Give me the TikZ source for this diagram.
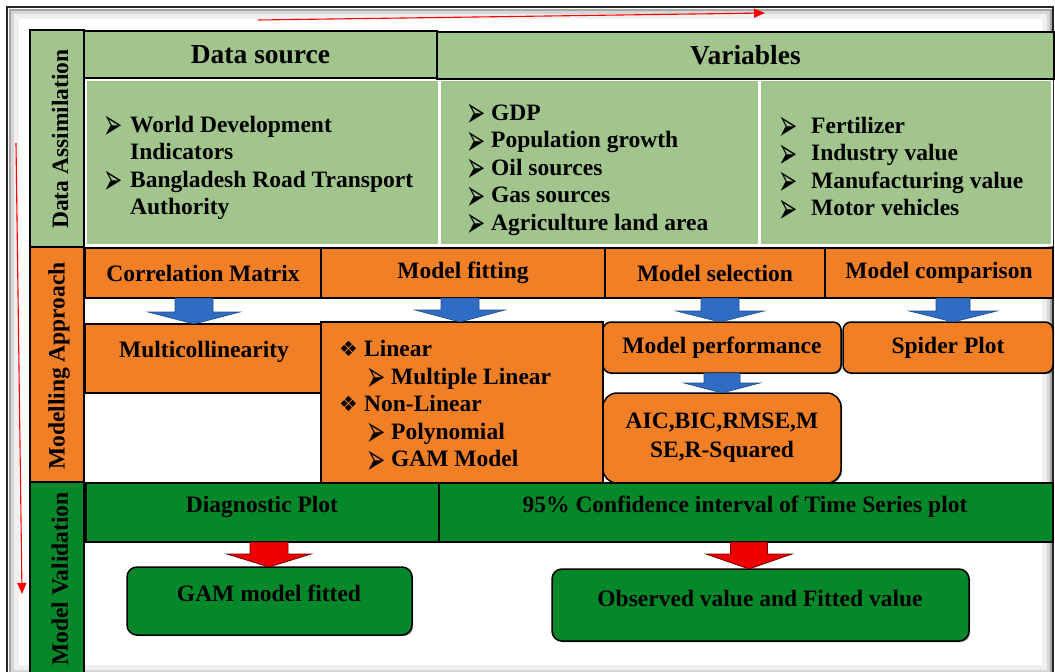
\documentclass[tikz,border=0pt]{standalone}
\usepackage{fontspec}
\usepackage{graphicx}
\setmainfont{Liberation Serif}
\newfontfamily\dingfont{DejaVu Sans}
\usetikzlibrary{calc,shadows,arrows.meta}

\definecolor{assimgreen}{RGB}{162,197,142}
\definecolor{modelorange}{RGB}{240,127,38}
\definecolor{validgreen}{RGB}{4,136,42}
\definecolor{flowblue}{RGB}{47,109,197}
\definecolor{flowred}{RGB}{238,0,0}

% list markers
\newcommand\bul{\smash{\raisebox{-7.5pt}{\scalebox{1}[1.9]{\dingfont\fontsize{23}{23}\selectfont ➢}}}}
\newcommand\dia{\smash{\dingfont\fontsize{21}{21}\selectfont ❖}}

% block arrow pointing down: style, start (shaft top), tip, shaft half-width, head half-width, head length
\newcommand\blockarrow[6]{%
  \path[#1] let \p1=#2, \p2=#3 in
    (\x2-#4,\y1) -- (\x2+#4,\y1) -- (\x2+#4,\y2+#6) -- (\x2+#5,\y2+#6)
    -- (\x2,\y2) -- (\x2-#5,\y2+#6) -- (\x2-#4,\y2+#6) -- cycle;}

\begin{document}
\begin{tikzpicture}[x=1pt,y=-1pt,
  box/.style={draw=black, line width=1.5pt, inner sep=0pt, outer sep=0pt},
  dropsh/.style={drop shadow={shadow xshift=1.2pt, shadow yshift=-1.2pt, opacity=.45, fill=black}},
  greenA/.style={box, fill=assimgreen, dropsh},
  cell/.style={draw=white, line width=1.4pt, fill=assimgreen, inner sep=0pt, outer sep=0pt},
  orangeA/.style={box, fill=modelorange, dropsh},
  greenV/.style={box, fill=validgreen, dropsh},
  txt/.style={font=\bfseries\fontsize{23.5}{27.5}\selectfont, inner sep=0pt, text=black},
  bigtxt/.style={font=\bfseries\fontsize{27.5}{32}\selectfont, inner sep=0pt, text=black},
  vtxt/.style={txt, rotate=90},
  rr/.style={rounded corners=8pt},
  blockblue/.style={fill=flowblue, draw=flowblue!70!black, line width=0.6pt},
  blockred/.style={fill=flowred, draw=red!45!black, line width=0.8pt},
  guide/.style={draw=red, line width=1.1pt, -{Triangle[length=11pt,width=9pt]}}
]
\useasboundingbox (0,0) rectangle (1055,672);

% outer frame with soft inner shading
\draw[black!35, line width=2pt] (9.5,9.5) rectangle (1050.5,673.5);
\draw[black!16, line width=3pt] (12,12) rectangle (1048,671);
\draw[black!6, line width=5pt] (16,16) rectangle (1044,667);
\draw[black!85, line width=1.6pt] (7,7) rectangle (1053,676);

% process direction guides
\coordinate (gTopA) at (258,20);
\coordinate (gTopB) at (765,13);
\coordinate (gLeftA) at (16,143);
\coordinate (gLeftB) at (22,594);
\draw[guide] (gTopA) -- (gTopB);
\draw[guide] (gLeftA) -- (gLeftB);

% stage columns
\node[greenA, minimum width=54pt, minimum height=217pt] (colA) at (57,138.5) {};
\node[orangeA, minimum width=54pt, minimum height=235pt] (colM) at (57,364.5) {};
\node[greenV, minimum width=54pt, minimum height=194pt] (colV) at (57,579) {};
\node[vtxt] (colAt) at (60,139) {Data Assimilation};
\node[vtxt] (colMt) at (59,366) {Modelling Approach};
\node[vtxt] (colVt) at (60,579) {Model Validation};

% data assimilation
\node[cell, minimum width=353pt, minimum height=165pt] (cds) at (262.5,162.5) {};
\node[cell, minimum width=319pt, minimum height=165pt] (cv1) at (599.5,162.5) {};
\node[cell, minimum width=292pt, minimum height=165pt] (cv2) at (906,162.5) {};
\node[greenA, bigtxt, minimum width=353pt, minimum height=47pt] (hds) at (260.5,54.5) {Data source};
\node[greenA, bigtxt, minimum width=617pt, minimum height=47pt] (hvar) at (745.5,55.5) {Variables};

\node[txt, anchor=north west] (lds) at (103,112.75) {%
  \begin{tabular}{@{}p{27pt}@{}l@{}}
  \bul & World Development\\
       & Indicators\\
  \bul & Bangladesh Road Transport\\
       & Authority
  \end{tabular}};
\node[txt, anchor=north west] (lv1) at (466,100.75) {%
  \begin{tabular}{@{}p{25pt}@{}l@{}}
  \bul & GDP\\
  \bul & Population growth\\
  \bul & Oil sources\\
  \bul & Gas sources\\
  \bul & Agriculture land area
  \end{tabular}};
\node[txt, anchor=north west] (lv2) at (778,113.75) {%
  \begin{tabular}{@{}p{33pt}@{}l@{}}
  \bul & Fertilizer\\
  \bul & Industry value\\
  \bul & Manufacturing value\\
  \bul & Motor vehicles
  \end{tabular}};

% modelling approach
\node[orangeA, txt, minimum width=236pt, minimum height=50pt] (hcm) at (203,273) {Correlation Matrix};
\node[orangeA, txt, minimum width=284pt, minimum height=50pt] (hmf) at (463,273) {Model fitting};
\node[orangeA, txt, minimum width=220pt, minimum height=50pt] (hms) at (715,273) {Model selection};
\node[orangeA, txt, minimum width=228pt, minimum height=50pt] (hmc) at (939,273) {Model comparison};

\node[orangeA, minimum width=236pt, minimum height=69pt] (bmc) at (203,358.5) {};
\node[txt] (tmc) at (204,352) {Multicollinearity};
\node[orangeA, minimum width=282pt, minimum height=161pt] (bmf) at (462,402.5) {};
\node[txt, anchor=north west] (lmf) at (339,337.5) {%
  \begin{tabular}{@{}p{25pt}@{}p{27pt}@{}l@{}}
  \dia & \multicolumn{2}{@{}l@{}}{Linear}\\
       & \hspace{2pt}\bul & Multiple Linear\\
  \dia & \multicolumn{2}{@{}l@{}}{Non-Linear}\\
       & \hspace{2pt}\bul & Polynomial\\
       & \hspace{2pt}\bul & GAM Model
  \end{tabular}};
\node[orangeA, rr, txt, minimum width=238pt, minimum height=51pt] (bmp) at (722,347.5) {Model performance};
\node[orangeA, rr, txt, minimum width=210pt, minimum height=51pt] (bsp) at (948,347.5) {Spider Plot};
\node[orangeA, rounded corners=14pt, txt, align=center, minimum width=238pt, minimum height=90pt,
      font=\bfseries\fontsize{23.5}{29}\selectfont] (baic) at (722,438) {AIC,BIC,RMSE,M\\SE,R-Squared};

\blockarrow{blockblue}{(hcm.south)}{($(bmc.north)+(-9,0)$)}{19pt}{46pt}{12pt}
\blockarrow{blockblue}{(hmf.south)}{($(bmf.north)+(-2,0)$)}{19pt}{45pt}{12pt}
\blockarrow{blockblue}{(hms.south)}{($(bmp.north)+(-2,0)$)}{19pt}{44pt}{11pt}
\blockarrow{blockblue}{(hmc.south)}{($(bsp.north)+(5,0)$)}{17pt}{44pt}{11pt}
\blockarrow{blockblue}{(bmp.south)}{(baic.north)}{18pt}{38pt}{10pt}

% model validation
\node[greenV, minimum width=353pt, minimum height=59pt] (hdp) at (262.5,512.5) {};
\node[txt] (tdp) at (262,507) {Diagnostic Plot};
\node[greenV, minimum width=614pt, minimum height=59pt] (hci) at (746,512.5) {};
\node[txt] (tci) at (745,507) {95\% Confidence interval of Time Series plot};
\node[greenV, rounded corners=10pt, minimum width=285pt, minimum height=68pt] (bgam) at (269.5,601) {};
\node[txt] (tgam) at (269,593) {GAM model fitted};
\node[greenV, rounded corners=10pt, minimum width=417pt, minimum height=72pt] (bobs) at (760.5,605) {};
\node[txt] (tobs) at (760,598) {Observed value and Fitted value};

\blockarrow{blockred}{(hdp.south)}{($(bgam.north)+(-0.5,0)$)}{19pt}{42pt}{13pt}
\blockarrow{blockred}{(hci.south)}{($(bobs.north)+(-11.5,0)$)}{18.5pt}{43pt}{15pt}
\end{tikzpicture}
\end{document}
